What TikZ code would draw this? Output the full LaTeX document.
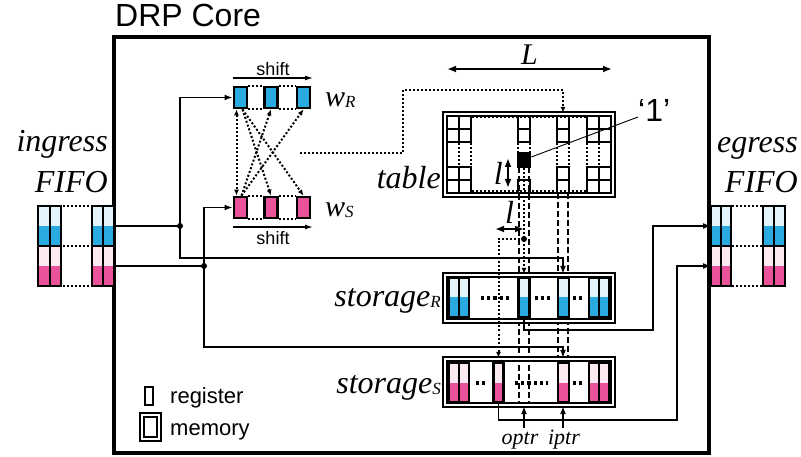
\documentclass[tikz,border=0pt]{standalone}
\usepackage{fontspec}
\setmainfont{Liberation Serif}
\setsansfont{Liberation Sans}
\usetikzlibrary{arrows.meta}
\definecolor{cblue}{RGB}{41,171,226}
\definecolor{clblue}{RGB}{226,243,251}
\definecolor{cpink}{RGB}{234,82,153}
\definecolor{clpink}{RGB}{252,233,241}
\newcommand{\sub}[1]{\raisebox{-1pt}{\fontsize{17}{19}\selectfont\itshape #1}}
\begin{document}
\begin{tikzpicture}[x=1pt,y=-1pt,
    reg/.style={draw,line width=2.8pt,minimum width=13pt,minimum height=21pt,inner sep=0pt},
    tcell/.style={draw,line width=2.6pt,minimum width=12pt,minimum height=13pt,inner sep=0pt},
    mem/.style={draw,line width=2.3pt,double=white,double distance=1.9pt,inner sep=0pt},
    wire/.style={line width=1.7pt},
    conn/.style={wire,-{Latex[length=8pt,width=6pt]}},
    dbl/.style={line width=2.4pt,{Latex[length=9pt,width=7pt]}-{Latex[length=9pt,width=7pt]}},
    dotline/.style={line width=2pt,dash pattern=on 2pt off 2pt},
    dotar/.style={dotline,-{Latex[length=6pt,width=5pt]}},
    guide/.style={line width=1.3pt,dash pattern=on 6pt off 3pt},
    spots/.style={line width=3.2pt,dash pattern=on 3.2pt off 3pt},
    lbl/.style={font=\fontsize{32}{36}\selectfont\itshape,inner sep=0pt},
    sflbl/.style={font=\sffamily\fontsize{22}{26}\selectfont,inner sep=0pt}]
  \useasboundingbox (0,0) rectangle (801,457);
  % the core
  \draw[line width=3.2pt] (114,37) rectangle (709,453);
  \node[font=\sffamily\fontsize{32}{36}\selectfont,inner sep=0pt,anchor=base west] (core) at (115,27) {DRP Core};
  % ingress and egress FIFOs
  \foreach \x/\w in {38/12,50/11,92/11,103/11,711/10,721/10,763/11,774/11}{
    \fill[clblue] (\x,206) rectangle ++(\w,20);
    \fill[cblue]  (\x,226) rectangle ++(\w,20);
    \fill[clpink] (\x,246) rectangle ++(\w,20);
    \fill[cpink]  (\x,266) rectangle ++(\w,20);
    \draw[line width=2.6pt] (\x,206) rectangle ++(\w,80) (\x,246) -- ++(\w,0);
  }
  \foreach \y in {206,246,286}{
    \draw[dotline] (63,\y) -- (91,\y);
    \draw[dotline] (732,\y) -- (762,\y);
  }
  \node[lbl,anchor=base east] (ing) at (108,152) {ingress};
  \node[lbl,anchor=base east] (ingf) at (108,193) {FIFO};
  \node[lbl,anchor=base east] (eg) at (798,153) {egress};
  \node[lbl,anchor=base east] (egf) at (798,193) {FIFO};
  \coordinate (inR) at (114,226);
  \coordinate (inS) at (114,266);
  \coordinate (outR) at (711,226);
  \coordinate (outS) at (711,266);
  % the two shift registers
  \foreach \n/\x in {1/240.5,2/271,3/303.5}{
    \node[reg,fill=cblue] (r\n) at (\x,97.5) {};
    \node[reg,fill=cpink] (s\n) at (\x,207.5) {};
  }
  \foreach \a/\b in {1/2,2/3}{
    \draw[dotline] (r\a.north east) -- (r\b.north west) (r\a.south east) -- (r\b.south west);
    \draw[dotline] (s\a.north east) -- (s\b.north west) (s\a.south east) -- (s\b.south west);
  }
  \node[lbl,font=\fontsize{30}{34}\selectfont\itshape,anchor=base west] (wr) at (325,107) {w\sub{R}};
  \node[lbl,font=\fontsize{30}{34}\selectfont\itshape,anchor=base west] (ws) at (325,217) {w\sub{S}};
  \coordinate (shA) at (233,78);
  \coordinate (shB) at (313,78);
  \coordinate (shC) at (233,227);
  \coordinate (shD) at (313,227);
  \draw[line width=1.2pt,-{Latex[length=8pt,width=5pt]}] (shA) -- (shB)
        node[midway,above=2pt,sflbl,font=\sffamily\fontsize{18}{20}\selectfont] {shift};
  \draw[line width=1.2pt,-{Latex[length=8pt,width=5pt]}] (shC) -- (shD)
        node[midway,below=4pt,sflbl,font=\sffamily\fontsize{18}{20}\selectfont] {shift};
  \draw[dotar,{Latex[length=6pt,width=5pt]}-{Latex[length=6pt,width=5pt]}] ([xshift=-4pt]r1.south) -- ([xshift=-4pt]s1.north);
  \draw[dotar] ([xshift=2pt]r1.south) -- (s2.north);
  \draw[dotar] ([xshift=2pt]r1.south) -- (s3.north);
  \draw[dotar] ([xshift=1pt]s1.north) -- (r2.south);
  \draw[dotar] ([xshift=1pt]s1.north) -- (r3.south);
  % the table
  \node[mem,minimum width=168pt,minimum height=81pt] (table) at (529,154.5) {};
  \node[lbl,anchor=base east] (tablbl) at (441,189) {table};
  \foreach \x [count=\i] in {453,465,563,593,605}{
    \foreach \y [count=\j] in {122.5,135.5,173.5,186.5}
      \node[tcell] (t\i\j) at (\x,\y) {};
  }
  \foreach \y [count=\j] in {122.5,135.5,186.5}
    \node[tcell] (c\j) at (524,\y) {};
  \node[tcell,fill=black,minimum height=14pt] (bk) at (524,160) {};
  \foreach \x in {447,459,471,557,569,587,599,611}
    \draw[dotline] (\x,143) -- (\x,166);
  \foreach \x in {518,530}
    \draw[dotline] (\x,143) -- (\x,153);
  \draw[dotline] (472,117.5) -- (586,117.5) (472,191.5) -- (586,191.5);
  \node[inner sep=0pt,font=\sffamily\fontsize{32}{36}\selectfont,anchor=base west] (one) at (638,122) {‘1’};
  \draw[line width=0.9pt] ([yshift=3pt]bk.east) -- ([yshift=5pt]one.base west);
  % columns read from the table
  \foreach \x in {519,529}
    \draw[guide] (\x,167) -- (\x,402);
  \foreach \x in {558,568}
    \draw[guide] (\x,193) -- (\x,359);
  % the two storages
  \node[mem,minimum width=168pt,minimum height=46pt] (storR) at (529,298) {};
  \node[mem,minimum width=168pt,minimum height=46pt] (storS) at (529,382) {};
  \node[lbl,anchor=base east] (srl) at (441,307) {storage\sub{R}};
  \node[lbl,anchor=base east] (ssl) at (441,393) {storage\sub{S}};
  \foreach \x/\w in {449/10,459/10,518.5/11,558/11,589/10,599/10}{
    \fill[clblue] (\x,278) rectangle ++(\w,19.5);
    \fill[cblue]  (\x,297.5) rectangle ++(\w,19.5);
    \draw[line width=2.4pt] (\x,278) rectangle ++(\w,39);
  }
  \foreach \x/\w in {449/10,459/10,493.5/10,558/11,589/10,599/10}{
    \fill[clpink] (\x,363) rectangle ++(\w,19.5);
    \fill[cpink]  (\x,382.5) rectangle ++(\w,19.5);
    \draw[line width=2.4pt] (\x,363) rectangle ++(\w,39);
  }
  \draw[spots] (481,298) -- (509,298) (535,298) -- (550,298) (573,298) -- (582,298);
  \draw[spots] (476,383) -- (485,383) (515,383) -- (548,383) (573,383) -- (582,383);
  % wiring
  \coordinate (colB) at (563,0);
  \coordinate (jR) at (180,226);
  \coordinate (jS) at (204,266);
  \draw[wire] (inR) -- (jR);
  \draw[wire] (inS) -- (jS);
  \draw[conn] (jR) |- (r1.west);
  \draw[conn] (jS) |- (s1.west);
  \draw[conn] (jR) -- ++(0,32) -| (colB |- storR.north);
  \draw[conn] (jS) -- ++(0,81) -| (colB |- storS.north);
  \fill (jR) circle (3pt) (jS) circle (3pt);
  \coordinate (wOut) at (300,153);
  \draw[dotar] (wOut) -- ++(103,0) -- ++(0,-63) -| (colB |- table.north);
  \coordinate (jL) at (524,239);
  \coordinate (sSo) at (498.5,402);
  \coordinate (sRo) at (524,317);
  \draw[dotar] (bk.south) -- (bk.south |- storR.north);
  \draw[dotar] (jL) -| (sSo |- storS.north);
  \fill (jL) circle (3pt);
  \coordinate (lA) at (495,229);
  \draw[dbl] (lA) -- (jL |- lA) node[midway,above=4pt,lbl] {l};
  \coordinate (lC) at (508,158);
  \coordinate (lD) at (508,188);
  \draw[dbl] (lC) -- (lD) node[midway,left=4pt,lbl] {l};
  \coordinate (LA) at (447,69);
  \coordinate (LB) at (612,69);
  \draw[dbl,line width=2.8pt] (LA) -- (LB) node[midway,above=3pt,lbl,font=\fontsize{30}{34}\selectfont\itshape] {L};
  \coordinate (bR) at (653,330);
  \coordinate (bS) at (677,420);
  \draw[conn] (sRo) |- (bR) |- (outR);
  \draw[conn] (sSo) |- (bS) |- (outS);
  % pointers
  \coordinate (op) at (524,428);
  \coordinate (ip) at (563,428);
  \draw[conn] (op) -- (op |- storS.south);
  \draw[conn] (ip) -- (ip |- storS.south);
  \node[lbl,font=\fontsize{22}{26}\selectfont\itshape,anchor=base] (optr) at (520,444) {optr};
  \node[lbl,font=\fontsize{22}{26}\selectfont\itshape,anchor=base] (iptr) at (564,444) {iptr};
  % legend
  \node[draw,line width=2.6pt,minimum width=8pt,minimum height=18pt,inner sep=0pt] (regsym) at (149,396) {};
  \node[sflbl,anchor=base west] (reglbl) at (170,403) {register};
  \node[mem,minimum width=17pt,minimum height=24pt] (memsym) at (150.5,427) {};
  \node[sflbl,anchor=base west] (memlbl) at (170,435) {memory};
\end{tikzpicture}
\end{document}
